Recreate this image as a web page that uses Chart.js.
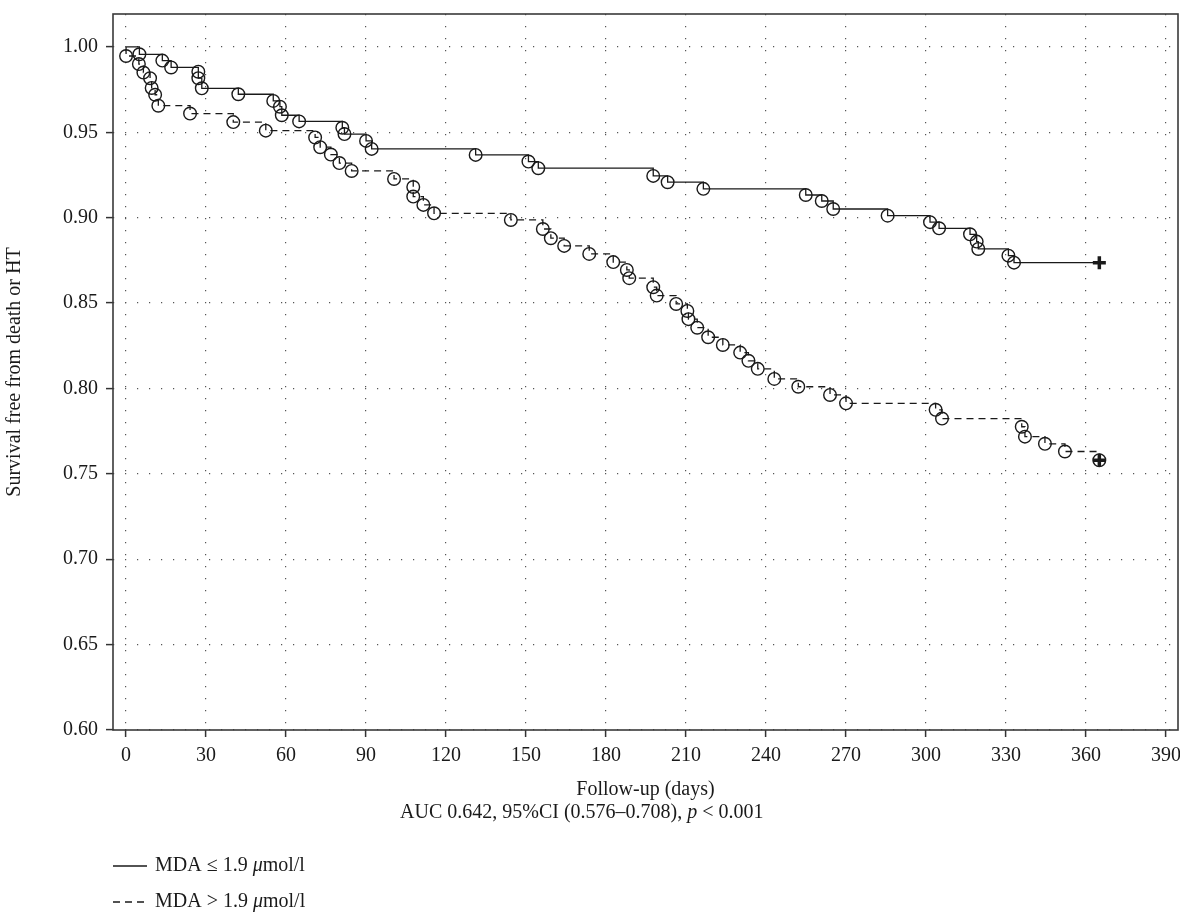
<!DOCTYPE html>
<html>
<head>
<meta charset="utf-8">
<script src="https://cdn.jsdelivr.net/npm/chart.js@4"></script>
<style>html,body{margin:0;padding:0;background:#fff;}canvas{display:block;}</style>
</head>
<body>
<canvas id="c" width="1180" height="912"></canvas>
<script>
// ---- data ----
const xTicks = [0, 30, 60, 90, 120, 150, 180, 210, 240, 270, 300, 330, 360, 390];
const yTicks = [0.60, 0.65, 0.70, 0.75, 0.80, 0.85, 0.90, 0.95, 1.00];

const seriesNames = ['MDA \u2264 1.9 \u03bcmol/l', 'MDA > 1.9 \u03bcmol/l'];

// MDA <= 1.9 (solid)
const lowDays = [5.0, 13.6, 16.9, 27.1, 27.1, 28.4, 42.1, 55.2, 57.7, 58.4, 64.9, 81.1, 81.9, 90.0, 92.1,
  131.1, 150.9, 154.6, 197.7, 203.1, 216.5, 254.9, 260.9, 265.2, 285.6, 301.5, 304.9, 316.5, 319.0, 319.6, 330.9, 333.0];
const lowSurv = [0.9957, 0.992, 0.988, 0.9855, 0.9817, 0.9758, 0.9723, 0.9684, 0.965, 0.960, 0.9564, 0.9527, 0.949, 0.945, 0.9403,
  0.9368, 0.9329, 0.929, 0.9245, 0.9208, 0.9169, 0.9133, 0.9098, 0.9051, 0.9012, 0.8974, 0.8938, 0.8903, 0.886, 0.8817, 0.8778, 0.8737];
const lowEndDay = 365;

// MDA > 1.9 (dashed)
const highDays = [0, 4.8, 6.5, 9.0, 9.6, 10.9, 12.1, 24.0, 40.2, 52.4, 70.9, 72.8, 76.8, 80.0, 84.6,
  100.5, 107.7, 107.7, 111.5, 115.5, 144.3, 156.3, 159.3, 164.3, 173.7, 182.7, 187.8, 188.7, 197.7, 199.0,
  206.3, 210.5, 210.9, 214.2, 218.3, 223.8, 230.3, 233.4, 236.9, 243.1, 252.1, 264.0, 270.0, 303.6, 306.0,
  335.9, 337.1, 344.6, 352.1, 365];
const highSurv = [0.9947, 0.990, 0.985, 0.9817, 0.976, 0.972, 0.9656, 0.961, 0.956, 0.951, 0.947, 0.9413, 0.937, 0.932, 0.9274,
  0.9227, 0.918, 0.9124, 0.9075, 0.9026, 0.8987, 0.8934, 0.888, 0.8835, 0.8788, 0.874, 0.8694, 0.8646, 0.8593, 0.8544,
  0.8495, 0.8454, 0.8406, 0.8356, 0.83, 0.8255, 0.821, 0.8162, 0.8115, 0.8056, 0.801, 0.7962, 0.7913, 0.7875, 0.7824,
  0.7776, 0.7718, 0.7676, 0.7631, 0.758];
const highEndDay = 365;

// censored (end of follow-up) marks
const censorDays = [365, 365];
const censorSurv = [0.8737, 0.758];

const xTitle = 'Follow-up (days)';
const yTitle = 'Survival free from death or HT';
const subtitleParts = [['AUC 0.642, 95%CI (0.576\u20130.708), ', false], ['p', true], [' < 0.001', false]];

// ---- styles ----
const FONT = '"Liberation Serif", "DejaVu Serif", "Times New Roman", serif';
const FS = 20;
const INK = '#1a1a1a';
Chart.defaults.font.family = FONT;
Chart.defaults.font.size = FS;
Chart.defaults.color = INK;

function buildCurve(days, surv, endDay) {
  const pts = [{x: 0, y: 1}];
  days.forEach((d, i) => pts.push({x: d, y: surv[i]}));
  if (endDay > days[days.length - 1]) pts.push({x: endDay, y: surv[surv.length - 1]});
  return pts;
}
function radiusFor(days) {
  return ctx => (ctx.dataIndex === 0 || ctx.dataIndex > days.length) ? 0 : 6.3;
}

const framePlugin = {
  id: 'frame',
  beforeDatasetsDraw(chart) {
    const {ctx, chartArea: a} = chart;
    ctx.save();
    ctx.setLineDash([]);
    ctx.strokeStyle = '#3a3a3a';
    ctx.lineWidth = 1.6;
    ctx.strokeRect(a.left, a.top, a.right - a.left, a.bottom - a.top);
    ctx.restore();
  }
};

function drawRich(ctx, parts, x, y, size) {
  let cx = x;
  parts.forEach(([t, it]) => {
    ctx.font = (it ? 'italic ' : '') + size + 'px ' + FONT;
    ctx.fillText(t, cx, y);
    cx += ctx.measureText(t).width;
  });
}

const notesPlugin = {
  id: 'notes',
  afterDraw(chart) {
    const {ctx, chartArea: a} = chart;
    ctx.save();
    ctx.fillStyle = INK;
    ctx.textBaseline = 'middle';
    ctx.textAlign = 'left';
    // subtitle under the x title
    drawRich(ctx, subtitleParts, 400, a.bottom + 83, FS);
    // legend
    const rows = [a.bottom + 136, a.bottom + 172];
    chart.data.datasets.slice(0, 2).forEach((ds, i) => {
      const y = rows[i];
      ctx.strokeStyle = ds.borderColor;
      ctx.lineWidth = ds.borderWidth;
      ctx.setLineDash(ds.borderDash || []);
      ctx.beginPath();
      ctx.moveTo(a.left, y);
      ctx.lineTo(a.left + 34, y);
      ctx.stroke();
      ctx.setLineDash([]);
      const pieces = seriesNames[i].split('\u03bc');
      drawRich(ctx, [[pieces[0], false], ['\u03bc', true], [pieces[1], false]], a.left + 42, y, FS);
    });
    ctx.restore();
  }
};

new Chart(document.getElementById('c'), {
  type: 'line',
  data: {
    datasets: [
      {
        label: seriesNames[0],
        data: buildCurve(lowDays, lowSurv, lowEndDay),
        stepped: true,
        borderColor: INK,
        borderWidth: 1.3,
        pointRadius: radiusFor(lowDays),
        pointStyle: 'circle',
        pointBorderColor: INK,
        pointBorderWidth: 1.4,
        pointBackgroundColor: 'rgba(0,0,0,0)',
        fill: false
      },
      {
        label: seriesNames[1],
        data: buildCurve(highDays, highSurv, highEndDay),
        stepped: true,
        borderColor: INK,
        borderWidth: 1.3,
        borderDash: [7, 5],
        pointRadius: radiusFor(highDays),
        pointStyle: 'circle',
        pointBorderColor: INK,
        pointBorderWidth: 1.4,
        pointBackgroundColor: 'rgba(0,0,0,0)',
        fill: false
      },
      {
        label: 'censored',
        data: censorDays.map((d, i) => ({x: d, y: censorSurv[i]})),
        showLine: false,
        pointStyle: 'cross',
        pointRadius: 6.5,
        pointBorderWidth: 3.5,
        pointBorderColor: INK,
        borderColor: INK
      }
    ]
  },
  options: {
    responsive: false,
    devicePixelRatio: 1,
    animation: false,
    events: [],
    layout: {autoPadding: false, padding: {top: 14, right: 2, left: 0, bottom: 110}},
    plugins: {legend: {display: false}, tooltip: {enabled: false}},
    scales: {
      x: {
        type: 'linear',
        min: -4.9,
        max: 394.5,
        afterBuildTicks: s => { s.ticks = xTicks.map(v => ({value: v})); },
        afterFit: s => { s.height = 72; s.paddingLeft = 0; s.paddingRight = 0; },
        grid: {color: '#555', lineWidth: 1.2, drawTicks: true, tickLength: 7, tickColor: '#333', tickWidth: 1.5, tickBorderDash: []},
        border: {display: false, dash: [1.2, 10.8]},
        ticks: {padding: 7, color: INK, maxRotation: 0, autoSkip: false, callback: v => String(v)},
        title: {display: true, text: xTitle, color: INK, padding: {top: 0, bottom: 0}}
      },
      y: {
        type: 'linear',
        min: 0.6,
        max: 1.0193,
        afterBuildTicks: s => { s.ticks = yTicks.map(v => ({value: v})); },
        afterFit: s => { s.width = 113; s.paddingTop = 0; s.paddingBottom = 0; },
        grid: {color: '#555', lineWidth: 1.2, drawTicks: true, tickLength: 7, tickColor: '#333', tickWidth: 1.5, tickBorderDash: []},
        border: {display: false, dash: [1.2, 10.8]},
        ticks: {padding: 8, color: INK, autoSkip: false, callback: v => Number(v).toFixed(2)},
        title: {display: true, text: yTitle, color: INK, padding: {top: 3, bottom: 3}}
      }
    }
  },
  plugins: [framePlugin, notesPlugin]
});
</script>
</body>
</html>
